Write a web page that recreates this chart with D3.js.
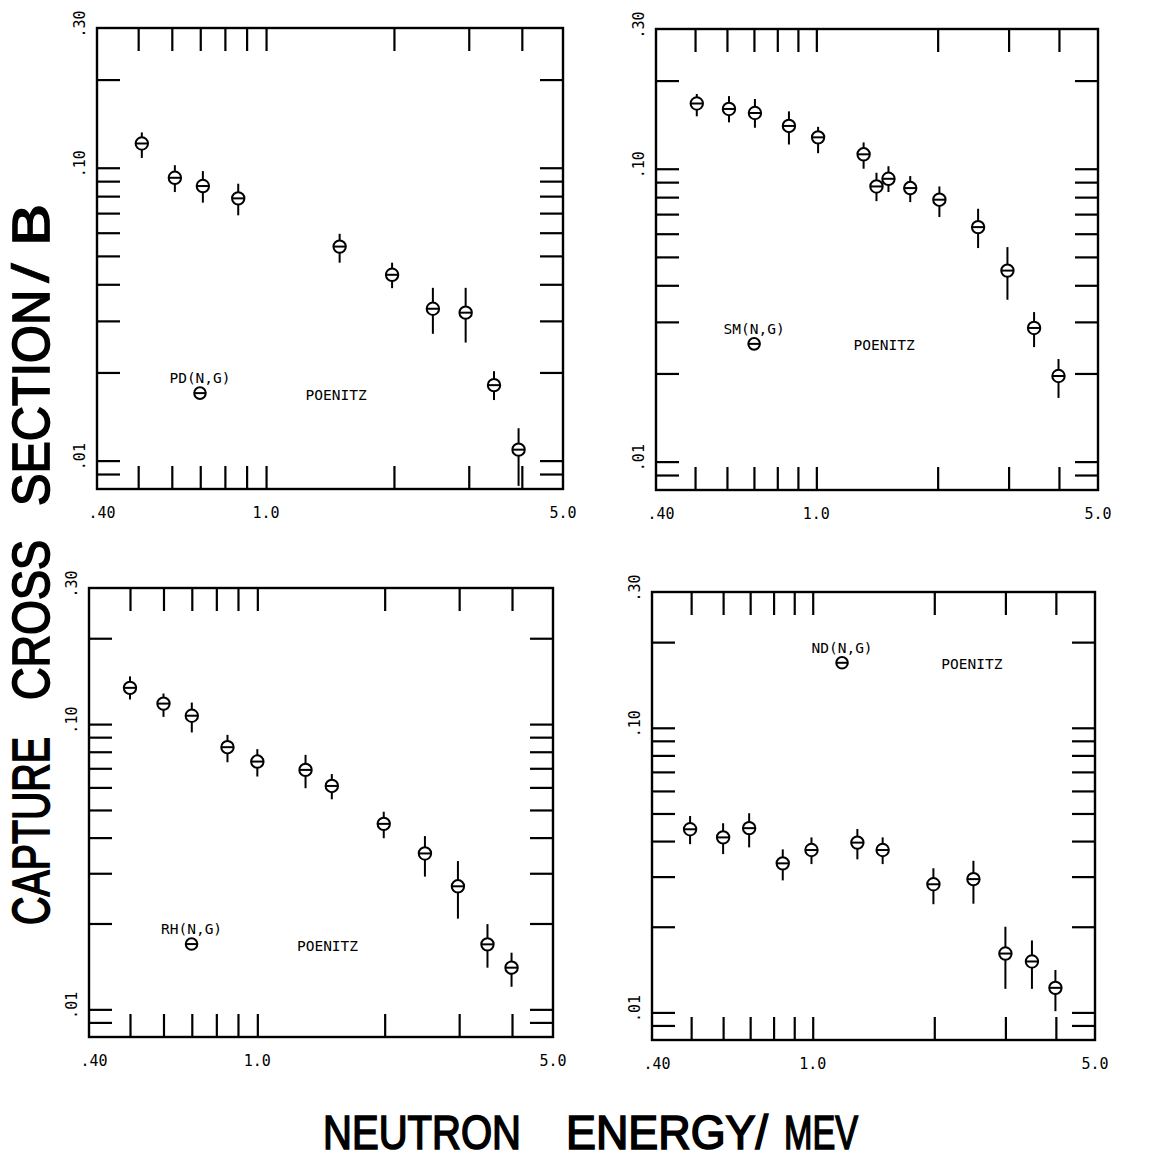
<!DOCTYPE html>
<html>
<head>
<meta charset="utf-8">
<script src="https://cdn.jsdelivr.net/npm/d3@7"></script>
<style>
  body { margin: 0; background: #fff; }
  .plot text { font-family: "DejaVu Sans Mono", monospace; fill: #000; }
  .title { font-family: "Liberation Sans", Arial, sans-serif; font-weight: normal; fill: #000; stroke: #000; stroke-width: 1.7px; }
  .slash { font-family: "Liberation Sans", Arial, sans-serif; font-weight: normal; fill: #000; stroke: #000; stroke-width: 0.6px; }
</style>
</head>
<body>
<script>
// axis ticks and labels
var xTicks = [0.5, 0.6, 0.7, 0.8, 0.9, 1, 2, 3, 4];
var yTicks = [0.009, 0.01, 0.02, 0.03, 0.04, 0.05, 0.06, 0.07, 0.08, 0.09, 0.1, 0.2];
var xLabelVals = [0.4, 1, 5];
var xLabelText = [".40", "1.0", "5.0"];
var yLabelVals = [0.3, 0.1, 0.01];
var yLabelText = [".30", ".10", ".01"];

// PD(N,G)
var pdE  = [0.51, 0.61, 0.71, 0.86, 1.49, 1.98, 2.47, 2.95, 3.44, 3.93];
var pdXS = [0.121, 0.0924, 0.0866, 0.0786, 0.0538, 0.0431, 0.0330, 0.0320, 0.0181, 0.0109];
var pdHi = [0.132, 0.102, 0.0974, 0.0882, 0.0595, 0.0474, 0.0389, 0.0389, 0.0202, 0.0129];
var pdLo = [0.108, 0.0826, 0.0760, 0.0688, 0.0474, 0.0388, 0.0271, 0.0253, 0.0161, 0.0082];

// SM(N,G)
var smE  = [0.505, 0.607, 0.704, 0.855, 1.01, 1.31, 1.41, 1.51, 1.71, 2.02, 2.52, 2.98, 3.47, 3.99];
var smXS = [0.167, 0.160, 0.155, 0.140, 0.128, 0.112, 0.0870, 0.0924, 0.0859, 0.0784, 0.0632, 0.0449, 0.0286, 0.0196];
var smHi = [0.180, 0.177, 0.173, 0.157, 0.139, 0.123, 0.0969, 0.102, 0.0944, 0.0870, 0.0730, 0.0540, 0.0324, 0.0224];
var smLo = [0.151, 0.144, 0.138, 0.121, 0.113, 0.100, 0.0775, 0.0833, 0.0769, 0.0684, 0.0536, 0.0357, 0.0246, 0.0165];

// RH(N,G)
var rhE  = [0.50, 0.60, 0.70, 0.85, 1.00, 1.30, 1.50, 1.99, 2.49, 2.98, 3.50, 3.99];
var rhXS = [0.134, 0.118, 0.107, 0.0830, 0.0739, 0.0691, 0.0607, 0.0447, 0.0352, 0.0270, 0.0169, 0.0140];
var rhHi = [0.147, 0.128, 0.119, 0.0917, 0.0817, 0.0780, 0.0668, 0.0493, 0.0405, 0.0331, 0.0199, 0.0158];
var rhLo = [0.122, 0.106, 0.0935, 0.0735, 0.0655, 0.0596, 0.0545, 0.0398, 0.0292, 0.0208, 0.0140, 0.0120];

// ND(N,G)
var ndE  = [0.497, 0.600, 0.696, 0.843, 0.993, 1.29, 1.49, 1.99, 2.50, 3.00, 3.49, 3.99];
var ndXS = [0.0440, 0.0412, 0.0444, 0.0334, 0.0372, 0.0395, 0.0372, 0.0282, 0.0294, 0.0161, 0.0151, 0.0122];
var ndHi = [0.0490, 0.0462, 0.0501, 0.0374, 0.0412, 0.0441, 0.0412, 0.0321, 0.0341, 0.0200, 0.0179, 0.0141];
var ndLo = [0.0390, 0.0360, 0.0380, 0.0291, 0.0332, 0.0345, 0.0332, 0.0240, 0.0241, 0.0121, 0.0121, 0.0101];

var svg = d3.select("body").append("svg")
    .attr("width", 1171)
    .attr("height", 1166);

// panel boxes + where the legend sits (fractions of the box)
var panels = [
  {name: "PD(N,G)", E: pdE, xs: pdXS, hi: pdHi, lo: pdLo, left: 97,  top: 28,  w: 466, h: 461, sym: [0.221, 0.792], auth: [0.513, 0.796]},
  {name: "SM(N,G)", E: smE, xs: smXS, hi: smHi, lo: smLo, left: 656, top: 29,  w: 442, h: 461, sym: [0.222, 0.683], auth: [0.516, 0.686]},
  {name: "RH(N,G)", E: rhE, xs: rhXS, hi: rhHi, lo: rhLo, left: 89,  top: 588, w: 464, h: 449, sym: [0.221, 0.793], auth: [0.514, 0.797]},
  {name: "ND(N,G)", E: ndE, xs: ndXS, hi: ndHi, lo: ndLo, left: 652, top: 592, w: 443, h: 448, sym: [0.429, 0.158], auth: [0.722, 0.160]}
];

function symbol(g, cx, cy, r) {
  g.append("circle")
      .attr("cx", cx).attr("cy", cy).attr("r", r)
      .attr("fill", "#fff").attr("stroke", "#000").attr("stroke-width", 2);
  g.append("line")
      .attr("x1", cx - r).attr("x2", cx + r)
      .attr("y1", cy).attr("y2", cy)
      .attr("stroke", "#000").attr("stroke-width", 2);
}

panels.forEach(function(p) {
  var g = svg.append("g")
      .attr("class", "plot")
      .attr("transform", "translate(" + p.left + "," + p.top + ")");

  var x = d3.scaleLog().domain([0.4, 5.0]).range([0, p.w]);
  var y = d3.scaleLog().domain([0.008, 0.30]).range([p.h, 0]);

  // inward ticks on all four sides
  var tk = 23;
  g.append("g").attr("transform", "translate(0," + p.h + ")")
      .call(d3.axisBottom(x).tickValues(xTicks).tickSize(-tk).tickFormat(""));
  g.append("g")
      .call(d3.axisTop(x).tickValues(xTicks).tickSize(-tk).tickFormat(""));
  g.append("g")
      .call(d3.axisLeft(y).tickValues(yTicks).tickSize(-tk).tickFormat(""));
  g.append("g").attr("transform", "translate(" + p.w + ",0)")
      .call(d3.axisRight(y).tickValues(yTicks).tickSize(-tk).tickFormat(""));
  g.selectAll(".domain").remove();
  g.selectAll(".tick line").attr("stroke", "#000").attr("stroke-width", 2.2);

  g.append("rect")
      .attr("width", p.w).attr("height", p.h)
      .attr("fill", "none").attr("stroke", "#000").attr("stroke-width", 2.4);

  // tick labels
  g.selectAll(".xlab")
      .data(xLabelVals)
      .enter().append("text")
      .attr("x", function(d, i) { return x(d) + (i === 0 ? 5 : 0); })
      .attr("y", p.h + 29)
      .attr("text-anchor", "middle")
      .style("font-size", "15px")
      .text(function(d, i) { return xLabelText[i]; });

  g.selectAll(".ylab")
      .data(yLabelVals)
      .enter().append("text")
      .attr("transform", function(d) { return "translate(-12," + (y(d) - 4) + ") rotate(-90)"; })
      .attr("text-anchor", "middle")
      .style("font-size", "15px")
      .text(function(d, i) { return yLabelText[i]; });

  // error bars then markers
  var pts = p.E.map(function(e, i) { return {e: e, v: p.xs[i], hi: p.hi[i], lo: p.lo[i]}; });
  g.selectAll(".err")
      .data(pts)
      .enter().append("line")
      .attr("x1", function(d) { return x(d.e); })
      .attr("x2", function(d) { return x(d.e); })
      .attr("y1", function(d) { return y(d.hi); })
      .attr("y2", function(d) { return y(d.lo); })
      .attr("stroke", "#000").attr("stroke-width", 2);
  pts.forEach(function(d) { symbol(g, x(d.e), y(d.v), 6.2); });

  // legend
  var sx = p.sym[0] * p.w, sy = p.sym[1] * p.h;
  symbol(g, sx, sy, 5.8);
  g.append("text")
      .attr("x", sx).attr("y", sy - 10)
      .attr("text-anchor", "middle")
      .style("font-size", "14.5px")
      .text(p.name);
  g.append("text")
      .attr("x", p.auth[0] * p.w).attr("y", p.auth[1] * p.h + 5)
      .attr("text-anchor", "middle")
      .style("font-size", "14.5px")
      .text("POENITZ");
});

// axis titles, word by word (text, start, length along the text, class)
var yTitle = [["CAPTURE", 925, 188, "title"], ["CROSS", 700, 160, "title"], ["SECTION", 506, 216, "title"],
              ["/", 283, 20, "slash"], ["B", 246, 42, "title"]];
var xTitle = [["NEUTRON", 323, 198, "title"], ["ENERGY/", 566, 202, "title"], ["MEV", 784, 74, "title"]];

svg.selectAll(".ytitle")
    .data(yTitle)
    .enter().append("text")
    .attr("class", function(d) { return d[3]; })
    .attr("transform", function(d) { return "translate(49," + d[1] + ") rotate(-90)"; })
    .attr("textLength", function(d) { return d[2]; })
    .attr("lengthAdjust", "spacingAndGlyphs")
    .style("font-size", "52px")
    .text(function(d) { return d[0]; });

svg.selectAll(".xtitle")
    .data(xTitle)
    .enter().append("text")
    .attr("class", function(d) { return d[3]; })
    .attr("x", function(d) { return d[1]; })
    .attr("y", 1149)
    .attr("textLength", function(d) { return d[2]; })
    .attr("lengthAdjust", "spacingAndGlyphs")
    .style("font-size", "49px")
    .text(function(d) { return d[0]; });
</script>
</body>
</html>
